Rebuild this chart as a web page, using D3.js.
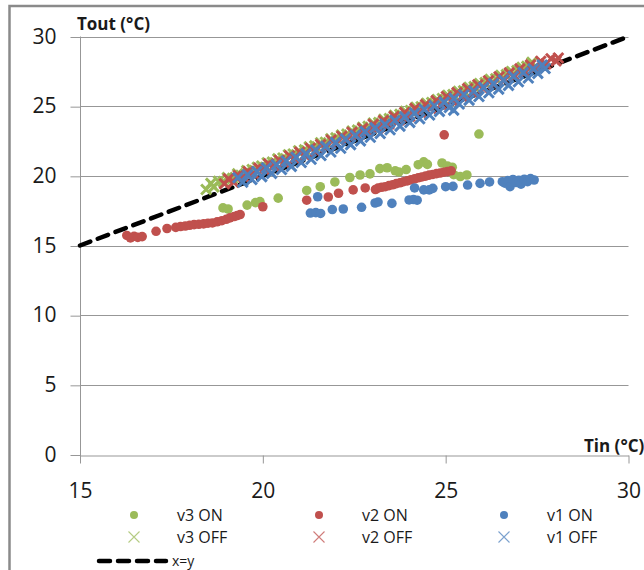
<!DOCTYPE html>
<html>
<head>
<meta charset="utf-8">
<script src="https://cdn.jsdelivr.net/npm/d3@7/dist/d3.min.js"></script>
<style>
  html, body { margin: 0; padding: 0; background: #fff; }
  svg { display: block; }
  text { font-family: "Open Sans", "Noto Sans", sans-serif; fill: #1a1a1a; }
</style>
</head>
<body>
<svg id="chart" width="644" height="570"></svg>
<script>
// Tin / Tout pairs (°C) for each fan speed, compressor ON and OFF
const v3On = [
  [18.91,17.70],[19.05,17.62],[19.57,17.90],[19.80,18.08],[19.92,18.15],[20.42,18.40],
  [21.20,18.95],[21.57,19.22],[21.97,19.56],[22.38,19.88],[22.66,20.06],[22.93,20.14],
  [23.20,20.52],[23.40,20.58],[23.62,20.36],[23.72,20.28],[23.92,20.45],[24.25,20.80],
  [24.40,21.00],[24.50,20.82],[24.90,20.92],[25.05,20.70],[25.18,20.62],[25.22,20.08],
  [25.40,19.95],[25.58,20.06],[25.91,23.00]
];
const v2On = [
  [16.28,15.72],[16.38,15.55],[16.48,15.66],[16.58,15.58],[16.70,15.64],[17.08,16.02],
  [17.38,16.22],[17.62,16.30],[17.75,16.36],[17.88,16.40],[18.00,16.45],[18.12,16.50],
  [18.25,16.52],[18.38,16.55],[18.50,16.60],[18.62,16.62],[18.75,16.70],[18.88,16.78],
  [19.00,16.88],[19.10,16.98],[19.22,17.08],[19.30,17.15],[19.38,17.22],[20.00,17.78],
  [21.20,18.25],[21.79,18.48],[22.07,18.75],[22.47,18.99],[22.80,19.13],[23.08,19.02],
  [23.15,19.12],[23.25,19.18],[23.35,19.22],[23.45,19.30],[23.55,19.36],[23.65,19.44],
  [23.75,19.50],[23.85,19.58],[23.95,19.64],[24.05,19.72],[24.15,19.78],[24.25,19.86],
  [24.35,19.92],[24.45,19.98],[24.55,20.05],[24.65,20.10],[24.75,20.16],[24.85,20.20],
  [24.95,20.26],[25.05,20.30],[25.15,20.36],[24.96,22.94]
];
const v1On = [
  [21.30,17.33],[21.45,17.36],[21.58,17.30],[21.90,17.58],[22.20,17.62],[21.50,18.50],
  [22.70,17.74],[23.07,18.05],[23.15,18.12],[23.53,18.02],[24.00,18.27],[24.12,18.30],
  [24.22,18.25],[24.15,19.13],[24.40,18.99],[24.55,18.99],[24.65,19.10],[25.00,19.22],
  [25.20,19.24],[25.60,19.34],[25.94,19.46],[26.20,19.56],[26.55,19.58],[26.62,19.48],
  [26.70,19.66],[26.76,19.22],[26.84,19.74],[26.92,19.52],[27.00,19.68],[27.06,19.40],
  [27.15,19.76],[27.24,19.58],[27.32,19.80],[27.42,19.70]
];
const v3Off = [
  [18.45,19.02],[18.58,19.46],[18.66,19.21],[18.79,19.61],[18.92,19.58],[19.03,19.87],
  [19.17,19.82],[19.31,20.14],[19.40,20.03],[19.56,20.37],[19.71,20.45],[19.85,20.62],
  [19.97,20.71],[20.12,20.94],[20.26,20.98],[20.41,21.22],[20.55,21.28],[20.70,21.51],
  [20.83,21.57],[20.98,21.80],[21.14,21.86],[21.27,22.08],[21.42,22.15],[21.58,22.37],
  [21.71,22.41],[21.86,22.66],[22.00,22.72],[22.15,22.92],[22.30,22.99],[22.44,23.21],
  [22.59,23.28],[22.73,23.49],[22.88,23.55],[23.02,23.78],[23.17,23.82],[23.31,24.06],
  [23.46,24.11],[23.60,24.34],[23.75,24.41],[23.90,24.63],[24.04,24.69],[24.19,24.92],
  [24.33,24.96],[24.48,25.21],[24.62,25.26],[24.77,25.48],[24.91,25.55],[25.06,25.78],
  [25.20,25.83],[25.35,26.06],[25.49,26.11],[25.64,26.35],[25.78,26.40],[25.93,26.63],
  [26.08,26.69],[26.22,26.92],[26.37,26.97],[26.51,27.21],[26.66,27.26],[26.80,27.49],
  [26.95,27.55],[27.09,27.78],[27.22,27.86],[27.36,28.14]
];
const v2Off = [
  [18.95,19.43],[19.06,19.78],[19.20,19.55],[19.33,20.02],[19.47,19.94],[19.60,20.31],
  [19.74,20.18],[19.89,20.55],[20.03,20.47],[20.16,20.86],[20.30,20.71],[20.45,21.12],
  [20.58,20.96],[20.73,21.44],[20.87,21.25],[21.01,21.70],[21.15,21.48],[21.30,21.98],
  [21.44,21.77],[21.58,22.25],[21.73,22.03],[21.87,22.57],[22.01,22.31],[22.16,22.84],
  [22.30,22.60],[22.44,23.13],[22.59,22.87],[22.73,23.41],[22.87,23.16],[23.02,23.70],
  [23.16,23.44],[23.30,23.96],[23.45,23.72],[23.59,24.27],[23.73,24.01],[23.88,24.55],
  [24.02,24.28],[24.16,24.84],[24.31,24.57],[24.45,25.11],[24.59,24.86],[24.74,25.40],
  [24.88,25.13],[25.02,25.69],[25.17,25.42],[25.31,25.97],[25.45,25.70],[25.60,26.26],
  [25.74,25.99],[25.88,26.54],[26.03,26.28],[26.17,26.82],[26.31,26.56],[26.46,27.11],
  [26.60,26.85],[26.74,27.39],[26.89,27.14],[27.03,27.68],[27.17,27.42],[27.32,27.96],
  [27.46,27.74],[27.60,28.22],[27.74,28.03],[27.88,28.40],[28.02,28.25],[28.08,28.46]
];
const v1Off = [
  [19.32,19.86],[19.45,19.55],[19.58,20.08],[19.70,19.74],[19.84,20.31],[19.97,19.94],
  [20.10,20.57],[20.24,20.18],[20.37,20.80],[20.51,20.45],[20.64,21.06],[20.78,20.68],
  [20.91,21.33],[21.05,20.96],[21.18,21.58],[21.32,21.19],[21.45,21.85],[21.59,21.46],
  [21.72,22.11],[21.86,21.71],[21.99,22.38],[22.13,21.98],[22.26,22.64],[22.40,22.24],
  [22.53,22.91],[22.67,22.51],[22.80,23.17],[22.94,22.77],[23.07,23.44],[23.21,23.04],
  [23.34,23.70],[23.48,23.31],[23.61,23.97],[23.75,23.57],[23.88,24.23],[24.02,23.84],
  [24.15,24.50],[24.29,24.10],[24.42,24.76],[24.56,24.37],[24.69,25.03],[24.83,24.63],
  [24.96,25.29],[25.10,24.90],[25.23,25.56],[25.37,25.16],[25.50,25.82],[25.64,25.43],
  [25.77,26.09],[25.91,25.69],[26.04,26.35],[26.18,25.96],[26.31,26.62],[26.45,26.22],
  [26.58,26.88],[26.72,26.49],[26.85,27.15],[26.99,26.75],[27.12,27.41],[27.26,27.02],
  [27.39,27.68],[27.52,27.35],[27.64,27.95],[27.72,27.70],[25.22,24.72]
];
const identityLine = [[15,15],[30,30]];

const xTicks = [15, 20, 25, 30];
const yTicks = [0, 5, 10, 15, 20, 25, 30];
const xLabel = "Tin (°C)";
const yLabel = "Tout (°C)";

const seriesOn = [
  { name: "v3 ON", color: "#9bbb59", data: v3On },
  { name: "v2 ON", color: "#c0504d", data: v2On },
  { name: "v1 ON", color: "#4f81bd", data: v1On }
];
const seriesOff = [
  { name: "v3 OFF", color: "#9bbb59", data: v3Off },
  { name: "v2 OFF", color: "#c0504d", data: v2Off },
  { name: "v1 OFF", color: "#4f81bd", data: v1Off }
];

const svg = d3.select("#chart");
const gridColor = "#979797";

// chart frame (left and top edges)
svg.append("path")
  .attr("d", "M9.5,580 V6 H650")
  .attr("fill", "none").attr("stroke", "#8a8a8a").attr("stroke-width", 2.5);

const x = d3.scaleLinear().domain([15, 30]).range([80, 628.5]);
const y = d3.scaleLinear().domain([0, 30]).range([454.5, 36.5]);

// horizontal gridlines
svg.append("g")
  .selectAll("line")
  .data(yTicks.filter(v => v > 0))
  .join("line")
  .attr("x1", x(15)).attr("x2", x(30))
  .attr("y1", d => Math.round(y(d)) + 0.5).attr("y2", d => Math.round(y(d)) + 0.5)
  .attr("stroke", gridColor).attr("stroke-width", 1);

// axes
const yAxis = svg.append("g")
  .attr("transform", `translate(${Math.round(x(15)) + 0.5},0)`)
  .call(d3.axisLeft(y).tickValues(yTicks).tickSize(10).tickPadding(14).tickSizeOuter(0));
const xAxis = svg.append("g")
  .attr("transform", `translate(0,${Math.round(y(0)) + 0.5})`)
  .call(d3.axisBottom(x).tickValues(xTicks).tickSize(8).tickPadding(20).tickSizeOuter(0));

[yAxis, xAxis].forEach(g => {
  g.select(".domain").attr("stroke", gridColor);
  g.selectAll(".tick line").attr("stroke", gridColor);
  g.selectAll(".tick text")
    .style("font-family", "'Open Sans', sans-serif")
    .style("font-size", "21px")
    .attr("fill", "#1a1a1a");
});
yAxis.selectAll(".tick line").attr("transform", "translate(0,0.5)");
yAxis.select(".domain").attr("d", `M0,${y(30)}V${y(0) + 8}`);

// axis titles
svg.append("text")
  .attr("x", 77).attr("y", 30)
  .style("font-size", "17px").style("font-weight", "700")
  .text(yLabel);
svg.append("text")
  .attr("x", 584).attr("y", 452)
  .style("font-size", "17px").style("font-weight", "700")
  .text(xLabel);

// x = y reference line
const line = d3.line().x(d => x(d[0])).y(d => y(d[1]));
svg.append("path")
  .datum(identityLine)
  .attr("d", line)
  .attr("fill", "none")
  .attr("stroke", "#000")
  .attr("stroke-width", 4.5)
  .attr("stroke-dasharray", "11,8")
  .attr("stroke-linecap", "round");

const plot = svg.append("g");

// compressor ON: filled circles
seriesOn.forEach(s => {
  plot.append("g")
    .selectAll("circle")
    .data(s.data)
    .join("circle")
    .attr("cx", d => x(d[0]))
    .attr("cy", d => y(d[1]))
    .attr("r", 4.8)
    .attr("fill", s.color);
});

// compressor OFF: crosses
const crossPath = h => `M${-h},${-h}L${h},${h}M${-h},${h}L${h},${-h}`;
seriesOff.forEach(s => {
  plot.append("g")
    .selectAll("path")
    .data(s.data)
    .join("path")
    .attr("transform", d => `translate(${x(d[0])},${y(d[1])})`)
    .attr("d", crossPath(5))
    .attr("fill", "none")
    .attr("stroke", s.color)
    .attr("stroke-width", 3);
});

// legend
const legendCols = [134, 319, 504];
const legendRows = [515, 537];
const legend = svg.append("g");
seriesOn.forEach((s, i) => {
  legend.append("circle")
    .attr("cx", legendCols[i]).attr("cy", legendRows[0]).attr("r", 4)
    .attr("fill", s.color);
  legend.append("text")
    .attr("x", legendCols[i] + 43).attr("y", legendRows[0] + 5.5)
    .style("font-size", "16px").text(s.name);
});
seriesOff.forEach((s, i) => {
  legend.append("path")
    .attr("transform", `translate(${legendCols[i]},${legendRows[1]})`)
    .attr("d", crossPath(5.5))
    .attr("fill", "none").attr("stroke", s.color)
    .attr("stroke-opacity", 0.75).attr("stroke-width", 1.1);
  legend.append("text")
    .attr("x", legendCols[i] + 43).attr("y", legendRows[1] + 5.5)
    .style("font-size", "16px").text(s.name);
});
legend.append("line")
  .attr("x1", 99).attr("x2", 166).attr("y1", 561).attr("y2", 561)
  .attr("stroke", "#000").attr("stroke-width", 4.5)
  .attr("stroke-dasharray", "11,8").attr("stroke-linecap", "round");
legend.append("text")
  .attr("x", 172).attr("y", 565.5)
  .style("font-size", "14px").text("x=y");
</script>
</body>
</html>
